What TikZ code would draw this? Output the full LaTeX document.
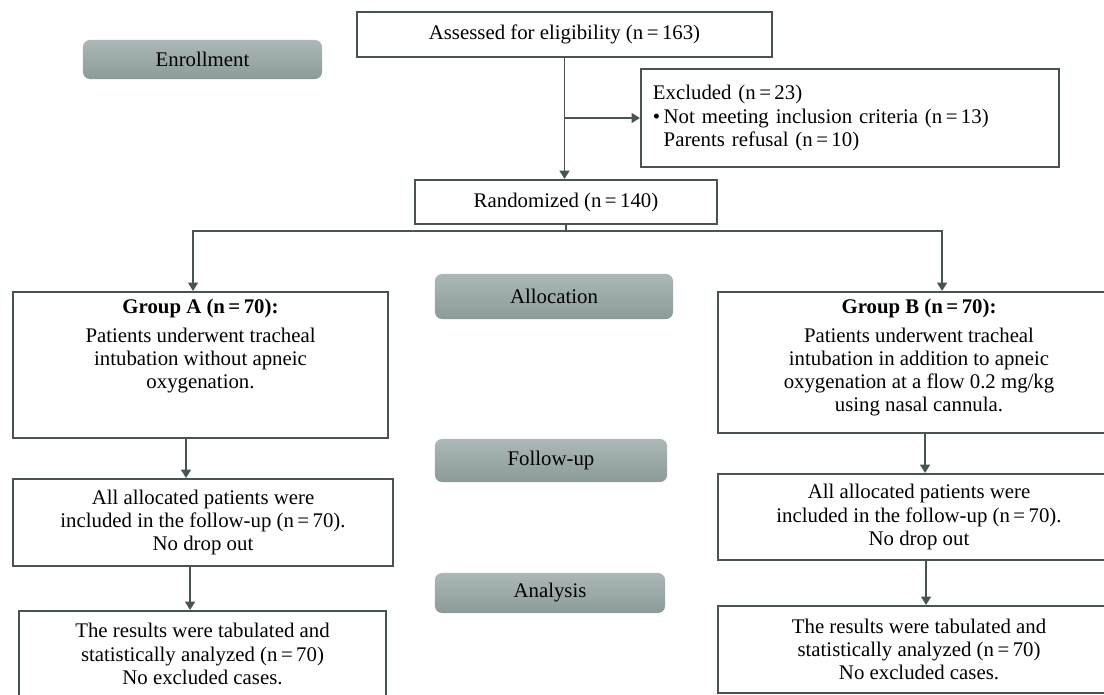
\documentclass[tikz,border=0pt]{standalone}
\usepackage{fontspec}
\setmainfont{Liberation Serif}
\usetikzlibrary{arrows.meta, positioning, calc}
\definecolor{boxline}{RGB}{72,84,84}
\definecolor{phasetop}{RGB}{172,184,184}
\definecolor{phasebot}{RGB}{140,154,154}

\begin{document}
\begin{tikzpicture}[
    x=0.025cm, y=-0.025cm,
    box/.style={draw=boxline, line width=1.4pt, align=center, font=\fontsize{14.8}{16.5}\selectfont},
    phase/.style={rounded corners=5pt, top color=phasetop, bottom color=phasebot, minimum height=1.05cm, font=\fontsize{14.8}{16.5}\selectfont},
    txt/.style={align=center, font=\fontsize{14.8}{16.5}\selectfont},
    arrow/.style={-{Triangle[length=6pt, width=7pt]}, draw=boxline, line width=1.4pt}
]
\useasboundingbox (0,0) rectangle (1104,695);

% Phase labels
\node[phase, minimum width=5.975cm, minimum height=0.975cm] (enroll) at (202.5, 59.5) {Enrollment};
\node[phase, minimum width=5.95cm, minimum height=1.125cm] (alloc) at (554, 296.5) {Allocation};
\node[phase, minimum width=5.8cm, minimum height=1.075cm] (follow) at (551, 460.5) {Follow-up};
\node[phase, minimum width=5.75cm, minimum height=1.0cm] (anal) at (550, 593) {Analysis};

% Enrollment
\node[box, minimum width=10.375cm, minimum height=1.125cm] (assess) at (564.5, 34.5) {Assessed for eligibility (n\,=\,163)};
\node[box, align=left, text width=9.85cm, inner xsep=0.3cm, minimum height=2.45cm] (excl) at (850, 118) {
    Excluded (n\,=\,23)\\
    \textbullet\,Not meeting inclusion criteria (n\,=\,13)\\
    \hphantom{\textbullet\,}Parents refusal (n\,=\,10)
};
\node[box, minimum width=7.55cm, minimum height=1.1cm] (rand) at (566, 202) {Randomized (n\,=\,140)};

\coordinate (split) at (assess.south |- excl.west);
\draw[arrow] (assess.south) -- (assess.south |- rand.north);
\draw[arrow] (split) -- (excl.west);

% Allocation
\node[box, minimum width=9.375cm, minimum height=3.65cm] (grpA) at (200.5, 365) {};
\node[txt, anchor=north] (grpAtext) at ([yshift=-2pt]grpA.north) {
    \textbf{Group A (n\,=\,70):}\\[4pt]
    Patients underwent tracheal\\
    intubation without apneic\\
    oxygenation.
};
\node[box, minimum width=10.05cm, minimum height=3.525cm] (grpB) at (919, 362.5) {};
\node[txt, anchor=north] (grpBtext) at ([yshift=-2pt]grpB.north) {
    \textbf{Group B (n\,=\,70):}\\[4pt]
    Patients underwent tracheal\\
    intubation in addition to apneic\\
    oxygenation at a flow 0.2 mg/kg\\
    using nasal cannula.
};

\coordinate (fork) at ([yshift=-4.3pt]rand.south);
\draw[boxline, line width=1.4pt] (rand.south) -- (fork);
\draw[arrow] (fork) -| ([xshift=-5.3pt]grpA.north);
\draw[arrow] (fork) -| ([xshift=16.4pt]grpB.north);

% Follow-up
\node[box, minimum width=9.5cm, minimum height=2.175cm] (fupA) at (203, 522.5) {
    All allocated patients were\\
    included in the follow-up (n\,=\,70).\\
    No drop out
};
\node[box, minimum width=10.05cm, minimum height=2.15cm] (fupB) at (919, 517) {
    All allocated patients were\\
    included in the follow-up (n\,=\,70).\\
    No drop out
};
\draw[arrow] ([xshift=-10.3pt]grpA.south) -- ([xshift=-10.3pt]grpA.south |- fupA.north);
\draw[arrow] ([xshift=4.3pt]grpB.south) -- ([xshift=4.3pt]grpB.south |- fupB.north);

% Analysis
\node[box, minimum width=9.175cm, minimum height=2.15cm] (resA) at (202.5, 654) {
    The results were tabulated and\\
    statistically analyzed (n\,=\,70)\\
    No excluded cases.
};
\node[box, minimum width=10.05cm, minimum height=2.175cm] (resB) at (919, 649.5) {
    The results were tabulated and\\
    statistically analyzed (n\,=\,70)\\
    No excluded cases.
};
\draw[arrow] ([xshift=-9.2pt]fupA.south) -- ([xshift=-9.2pt]fupA.south |- resA.north);
\draw[arrow] ([xshift=5pt]fupB.south) -- ([xshift=5pt]fupB.south |- resB.north);

\end{tikzpicture}
\end{document}
